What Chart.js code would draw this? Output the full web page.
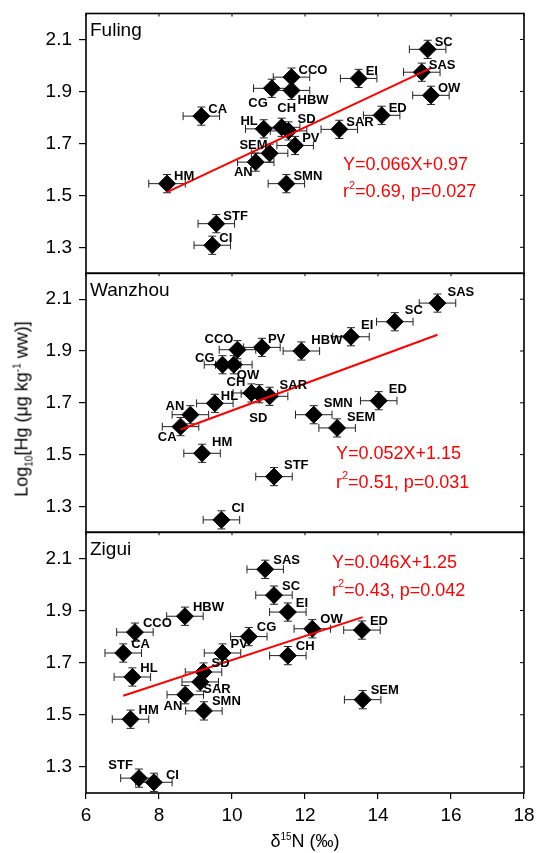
<!DOCTYPE html>
<html>
<head>
<meta charset="utf-8">
<script src="https://cdn.jsdelivr.net/npm/chart.js@4/dist/chart.umd.min.js"></script>
<style>
    body { margin: 0; background: #fff; width: 537px; height: 853px; position: relative; overflow: hidden;
           font-family: "Liberation Sans", Arial, Helvetica, sans-serif; }
    canvas { position: absolute; left: 0; }
    .ytitle { position: absolute; left: 22px; top: 409px; transform: translate(-50%, -50%) rotate(-90deg);
              font-size: 18px; white-space: nowrap; color: #000; }
    .xtitle { position: absolute; left: 305px; top: 841px; transform: translate(-50%, -50%);
              font-size: 18px; white-space: nowrap; color: #000; }
    sup, sub { font-size: 10px; line-height: 0; }
</style>
</head>
<body>
<canvas id="fuling" width="537" height="276" style="top:0px"></canvas>
<canvas id="wanzhou" width="537" height="264" style="top:271px"></canvas>
<canvas id="zigui" width="537" height="323" style="top:530px"></canvas>
<div class="ytitle">Log<sub>10</sub>[Hg (μg kg<sup>-1</sup> ww)]</div>
<div class="xtitle">δ<sup>15</sup>N (‰)</div>

<script>
// tick labels
const X_TICKS = [6, 8, 10, 12, 14, 16, 18];
const Y_TICKS = [1.3, 1.5, 1.7, 1.9, 2.1];

// Fuling
const fulingNames = ['SC', 'SAS', 'OW', 'EI', 'ED', 'SAR', 'CCO', 'HBW', 'CG', 'CA', 'HL', 'CH', 'SD', 'PV', 'SEM', 'AN', 'HM', 'SMN', 'STF', 'CI'];
const fulingX = [15.36, 15.2, 15.45, 13.47, 14.1, 12.94, 11.63, 11.63, 11.09, 9.16, 10.87, 11.36, 11.55, 11.73, 11.03, 10.65, 8.22, 11.49, 9.57, 9.46];
const fulingY = [2.062, 1.974, 1.885, 1.95, 1.808, 1.754, 1.955, 1.904, 1.912, 1.805, 1.756, 1.762, 1.748, 1.692, 1.662, 1.628, 1.545, 1.545, 1.391, 1.308];

// Wanzhou
const wanzhouNames = ['SAS', 'SC', 'EI', 'HBW', 'PV', 'CCO', 'CG', 'OW', 'CH', 'SD', 'SAR', 'HL', 'AN', 'CA', 'HM', 'STF', 'CI', 'SMN', 'SEM', 'ED'];
const wanzhouX = [15.63, 14.46, 13.26, 11.9, 10.82, 10.15, 9.74, 10.05, 10.53, 10.75, 11.03, 9.53, 8.86, 8.59, 9.18, 11.15, 9.71, 12.24, 12.88, 14.02];
const wanzhouY = [2.085, 2.013, 1.955, 1.90, 1.914, 1.905, 1.847, 1.847, 1.738, 1.735, 1.725, 1.698, 1.654, 1.608, 1.505, 1.415, 1.248, 1.654, 1.603, 1.708];

// Zigui
const ziguiNames = ['SAS', 'SC', 'EI', 'HBW', 'CCO', 'OW', 'ED', 'CG', 'CA', 'PV', 'CH', 'SD', 'HL', 'SAR', 'AN', 'SMN', 'SEM', 'HM', 'STF', 'CI'];
const ziguiX = [10.91, 11.15, 11.53, 8.71, 7.34, 12.2, 13.56, 10.46, 7.02, 9.74, 11.53, 9.22, 7.27, 9.13, 8.72, 9.23, 13.58, 7.22, 7.45, 7.86];
const ziguiY = [2.058, 1.959, 1.894, 1.878, 1.817, 1.83, 1.825, 1.80, 1.737, 1.737, 1.727, 1.664, 1.645, 1.626, 1.577, 1.515, 1.558, 1.483, 1.257, 1.241];

// regression (Fuling, Wanzhou, Zigui)
const fitSlope = [0.066, 0.052, 0.046];
const fitIntercept = [0.97, 1.15, 1.25];
const fitR2 = ['0.69', '0.51', '0.43'];
const fitP = ['0.027', '0.031', '0.042'];

// error bars (SD)
const X_SD = 0.5;
const Y_SD = 0.035;

const FONT = '"Liberation Sans", Arial, Helvetica, sans-serif';

// label placement: [dx, dy, align] from point centre
const panels = [
    {
        id: 'fuling', title: 'Fuling', names: fulingNames, x: fulingX, y: fulingY, k: 0,
        padTop: 13.5, padBottom: 2.7, showX: false,
        eq: [257, 151.5, 179],
        labelDefault: [7, -7, 'left'],
        labelMove: { CG: [-4, 15, 'right'], HBW: [6, 10, 'left'], CH: [5, -19, 'center'], SD: [9, -12, 'left'],
                     HL: [-6, -7, 'right'], SEM: [-2, -8, 'right'], AN: [-3, 10, 'right'] }
    },
    {
        id: 'wanzhou', title: 'Wanzhou', names: wanzhouNames, x: wanzhouX, y: wanzhouY, k: 1,
        padTop: 2.3, padBottom: 2.7, showX: false,
        eq: [250, 181, 210],
        labelDefault: [10, -11, 'left'],
        labelMove: { PV: [6, -8, 'left'], CCO: [-4, -10, 'right'], CG: [-8, -6, 'right'], OW: [3, 11, 'left'],
                     CH: [-6, -11, 'right'], SD: [-1, 25, 'center'], HL: [6, -7, 'left'], AN: [-6, -8, 'right'],
                     CA: [-4, 11, 'right'] }
    },
    {
        id: 'zigui', title: 'Zigui', names: ziguiNames, x: ziguiX, y: ziguiY, k: 2,
        padTop: 2.3, padBottom: 0, showX: true,
        eq: [246, 30.7, 59],
        labelDefault: [8, -9, 'left'],
        labelMove: { SAR: [3, 7, 'left'], AN: [-3, 12, 'right'], STF: [-6, -13, 'right'], CI: [12, -7, 'left'] }
    }
];

function panelPlugin(p) {
    return {
        id: 'panel_' + p.id,
        beforeDatasetsDraw(chart) {
            const { ctx, scales: { x, y } } = chart;
            ctx.save();
            ctx.strokeStyle = '#222';
            ctx.lineWidth = 1;
            p.x.forEach((xv, i) => {
                const cx = x.getPixelForValue(xv), cy = y.getPixelForValue(p.y[i]);
                const l = x.getPixelForValue(xv - X_SD), r = x.getPixelForValue(xv + X_SD);
                const t = y.getPixelForValue(p.y[i] + Y_SD), b = y.getPixelForValue(p.y[i] - Y_SD);
                ctx.beginPath();
                ctx.moveTo(l, cy); ctx.lineTo(r, cy);
                ctx.moveTo(l, cy - 4); ctx.lineTo(l, cy + 4);
                ctx.moveTo(r, cy - 4); ctx.lineTo(r, cy + 4);
                ctx.moveTo(cx, t); ctx.lineTo(cx, b);
                ctx.moveTo(cx - 4, t); ctx.lineTo(cx + 4, t);
                ctx.moveTo(cx - 4, b); ctx.lineTo(cx + 4, b);
                ctx.stroke();
            });
            ctx.restore();
        },
        afterDatasetsDraw(chart) {
            const { ctx, chartArea: a, scales: { x, y } } = chart;
            ctx.save();

            // point labels
            ctx.fillStyle = '#000';
            ctx.font = 'bold 13px ' + FONT;
            ctx.textBaseline = 'middle';
            p.names.forEach((name, i) => {
                const [dx, dy, align] = p.labelMove[name] || p.labelDefault;
                ctx.textAlign = align;
                ctx.fillText(name, x.getPixelForValue(p.x[i]) + dx, y.getPixelForValue(p.y[i]) + dy);
            });

            // frame with mirrored inner ticks
            ctx.strokeStyle = '#000';
            ctx.lineWidth = 1.6;
            ctx.strokeRect(a.left, a.top, a.right - a.left, a.bottom - a.top);
            ctx.lineWidth = 1;
            ctx.beginPath();
            Y_TICKS.forEach(v => {
                const py = y.getPixelForValue(v);
                ctx.moveTo(a.right - 4, py); ctx.lineTo(a.right, py);
            });
            X_TICKS.forEach(v => {
                const px = x.getPixelForValue(v);
                ctx.moveTo(px, a.top); ctx.lineTo(px, a.top + 3);
            });
            ctx.stroke();

            // panel name
            ctx.font = '19px ' + FONT;
            ctx.textAlign = 'left';
            ctx.fillText(p.title, a.left + 4, a.top + 17);

            // regression text
            const k = p.k;
            const ex = a.left + p.eq[0];
            ctx.fillStyle = '#ff0000';
            ctx.font = '18px ' + FONT;
            ctx.fillText('Y=' + fitSlope[k].toFixed(3) + 'X+' + fitIntercept[k].toFixed(2), ex, a.top + p.eq[1]);
            const y2 = a.top + p.eq[2];
            ctx.fillText('r', ex, y2);
            let cx = ex + ctx.measureText('r').width;
            ctx.font = '11px ' + FONT;
            ctx.fillText('2', cx, y2 - 7);
            cx += ctx.measureText('2').width;
            ctx.font = '18px ' + FONT;
            ctx.fillText('=' + fitR2[k] + ', p=' + fitP[k], cx, y2);

            ctx.restore();
        }
    };
}

function makeChart(p) {
    const points = p.x.map((v, i) => ({ x: v, y: p.y[i] }));
    const x0 = Math.min(...p.x), x1 = Math.max(...p.x);
    const k = p.k;
    const fitLine = [x0, x1].map(v => ({ x: v, y: fitSlope[k] * v + fitIntercept[k] }));

    return new Chart(document.getElementById(p.id), {
        type: 'scatter',
        data: {
            datasets: [
                { data: fitLine, showLine: true, borderColor: '#ff0000', borderWidth: 2, pointRadius: 0, order: 0 },
                { data: points, pointStyle: 'rectRot', pointRadius: 8.5, pointBorderWidth: 1,
                  backgroundColor: '#000', borderColor: '#000', order: 1 }
            ]
        },
        options: {
            responsive: false,
            animation: false,
            events: [],
            layout: { autoPadding: false, padding: { left: 0, right: 13, top: p.padTop, bottom: p.padBottom } },
            plugins: { legend: { display: false }, tooltip: { enabled: false } },
            scales: {
                x: {
                    type: 'linear', min: 6, max: 18, display: p.showX,
                    afterBuildTicks: s => { s.ticks = X_TICKS.map(v => ({ value: v })); },
                    afterFit: s => { s.height = p.showX ? 60 : 0; s.paddingLeft = 0; s.paddingRight = 0; },
                    grid: { drawOnChartArea: false, tickLength: 6, color: '#000', lineWidth: 1.2 },
                    border: { display: false },
                    ticks: { color: '#000', font: { family: FONT, size: 19 }, padding: 5, maxRotation: 0,
                             callback: v => String(v) }
                },
                y: {
                    type: 'linear', min: 1.2, max: 2.2,
                    afterBuildTicks: s => { s.ticks = Y_TICKS.map(v => ({ value: v })); },
                    afterFit: s => { s.width = 86; s.paddingTop = 0; s.paddingBottom = 0; },
                    grid: { drawOnChartArea: false, tickLength: 7, color: '#000', lineWidth: 1.2 },
                    border: { display: false },
                    ticks: { color: '#000', font: { family: FONT, size: 19 }, padding: 7,
                             callback: v => v.toFixed(1) }
                }
            }
        },
        plugins: [panelPlugin(p)]
    });
}

panels.forEach(makeChart);
</script>
</body>
</html>
